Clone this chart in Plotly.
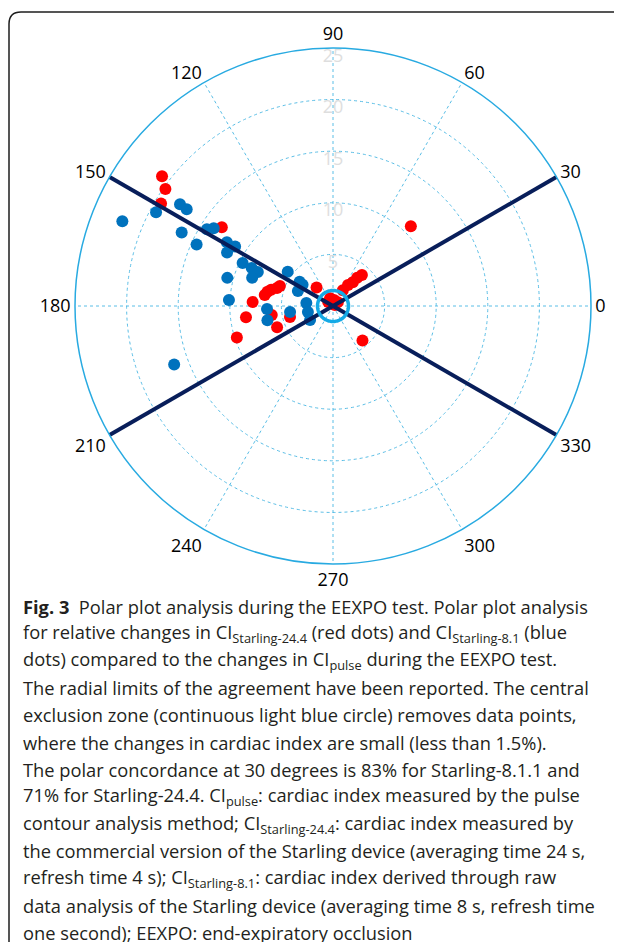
import plotly.graph_objects as go

# CI Starling-24.4 (red) : radius (%), angle (deg)
red_r = [20.8, 19.8, 19.4, 13.2, 10.8, 6.7, 6.5, 6.2, 5.7, 5.5, 7.8, 8.5, 9.8, 6.0,
         5.8, 4.3, 2.4, 0.8, 0.6, 0.6, 0.2, 1.8, 2.5, 3.0, 3.6, 4.1, 4.4, 0.6]
red_theta = [142.8, 145.1, 149.2, 144.7, 45.7, 170.8, 167.8, 165.3, 162.2, 159.3, 177.1,
             187.3, 198.1, 188.4, 200.9, 194.3, 131.6, 110.6, 80.5, 38.7, 26, 58, 54.5,
             50.2, 49.4, 46.9, 310.5, 141]

# CI Starling-8.1 (blue)
blue_r = [22.0, 19.4, 17.8, 17.0, 16.3, 14.5, 14.3, 13.8, 12.0, 11.1, 11.5, 9.7, 8.7,
          8.0, 8.3, 10.6, 10.1, 16.4, 5.5, 4.0, 3.6, 3.7, 6.4, 6.5, 4.2, 2.6, 2.5, 2.6]
blue_theta = [158.1, 152.1, 146.4, 146.5, 154.1, 155.7, 148.7, 146.9, 149, 148.7, 153.2,
              154.5, 154.9, 155.6, 160.7, 165.1, 176.7, 200.2, 142.9, 144, 145, 156.8,
              182.6, 192.2, 187.9, 173.4, 193.5, 211.3]

angle_ticks = list(range(0, 360, 30))
radial_ticks = [5, 10, 15, 20, 25]
r_max = 25
limit_angle = 30       # radial limits of agreement (deg)
exclusion_r = 1.5      # central exclusion zone

caption_lines = [
    "<b>Fig. 3</b>\u00a0\u00a0Polar plot analysis during the EEXPO test. Polar plot analysis",
    "for relative changes in CI<sub>Starling-24.4</sub> (red dots) and CI<sub>Starling-8.1</sub> (blue",
    "dots) compared to the changes in CI<sub>pulse</sub> during the EEXPO test.",
    "The radial limits of the agreement have been reported. The central",
    "exclusion zone (continuous light blue circle) removes data points,",
    "where the changes in cardiac index are small (less than 1.5%).",
    "The polar concordance at 30 degrees is 83% for Starling-8.1.1 and",
    "71% for Starling-24.4. CI<sub>pulse</sub>: cardiac index measured by the pulse",
    "contour analysis method; CI<sub>Starling-24.4</sub>: cardiac index measured by",
    "the commercial version of the Starling device (averaging time 24 s,",
    "refresh time 4 s); CI<sub>Starling-8.1</sub>: cardiac index derived through raw",
    "data analysis of the Starling device (averaging time 8 s, refresh time",
    "one second); EEXPO: end-expiratory occlusion",
]

# the page body adds an 8 px margin, so the figure is 8 px smaller than the window
OFF = 8
W, H = 622 - OFF, 942 - OFF


def fx(px):
    return (px - OFF) / W


def fy(py):
    return 1 - (py - OFF) / H


fig = go.Figure()

fig.add_trace(go.Scatterpolar(r=red_r, theta=red_theta, mode="markers",
                              marker=dict(color="rgb(255,0,0)", size=12), showlegend=False))
fig.add_trace(go.Scatterpolar(r=blue_r, theta=blue_theta, mode="markers",
                              marker=dict(color="rgb(0,114,189)", size=12), showlegend=False))

# limit lines
for a in (limit_angle, 180 - limit_angle):
    fig.add_trace(go.Scatterpolar(r=[r_max, 0, r_max], theta=[a, a, a + 180], mode="lines",
                                  line=dict(color="rgb(8,30,90)", width=4), showlegend=False))

# exclusion circle
circ_theta = list(range(0, 361, 3))
fig.add_trace(go.Scatterpolar(r=[exclusion_r] * len(circ_theta), theta=circ_theta, mode="lines",
                              line=dict(color="rgb(20,170,230)", width=3.5), showlegend=False))

# radial tick labels along 90 deg spoke
fig.add_trace(go.Scatterpolar(r=radial_ticks, theta=[90] * len(radial_ticks), mode="text",
                              text=[str(v) for v in radial_ticks], textposition="bottom center",
                              textfont=dict(family="Open Sans", size=18, color="rgb(222,222,222)"),
                              showlegend=False))

grid_col = "rgb(90,190,230)"
fig.update_layout(
    width=W, height=H,
    margin=dict(l=0, r=0, t=0, b=0),
    paper_bgcolor="white",
    polar=dict(
        domain=dict(x=[fx(75), fx(591)], y=[fy(564), fy(48)]),
        bgcolor="white",
        radialaxis=dict(range=[0, r_max], tickvals=radial_ticks[:-1], showticklabels=False,
                        ticks="", showline=False, gridcolor=grid_col, griddash="dot",
                        gridwidth=1),
        angularaxis=dict(direction="counterclockwise", rotation=0, tickmode="array",
                         tickvals=angle_ticks, ticktext=[str(v) for v in angle_ticks],
                         ticks="", showline=True, linecolor="rgb(40,170,225)", linewidth=1.5,
                         gridcolor=grid_col, griddash="dot", gridwidth=1,
                         tickfont=dict(family="Open Sans", size=18, color="black")),
    ),
)

# frame (rounded top-left corner, open to the right and bottom)
fig.add_shape(type="path", xref="paper", yref="paper",
              path=(f"M {fx(9)},-0.01 L {fx(9)},{fy(24)} Q {fx(9)},{fy(12)} {fx(21)},{fy(12)} "
                    f"L 1.0,{fy(12)}"),
              line=dict(color="rgb(30,30,30)", width=1.5))

for i, line in enumerate(caption_lines):
    yc = 606 + 27.2 * i
    fig.add_annotation(xref="paper", yref="paper", x=fx(21), y=fy(yc),
                       xanchor="left", yanchor="middle", text=line, showarrow=False,
                       font=dict(family="Open Sans", size=18.3, color="rgb(35,31,32)"))

fig.write_html("out.html", config={"displayModeBar": False})
